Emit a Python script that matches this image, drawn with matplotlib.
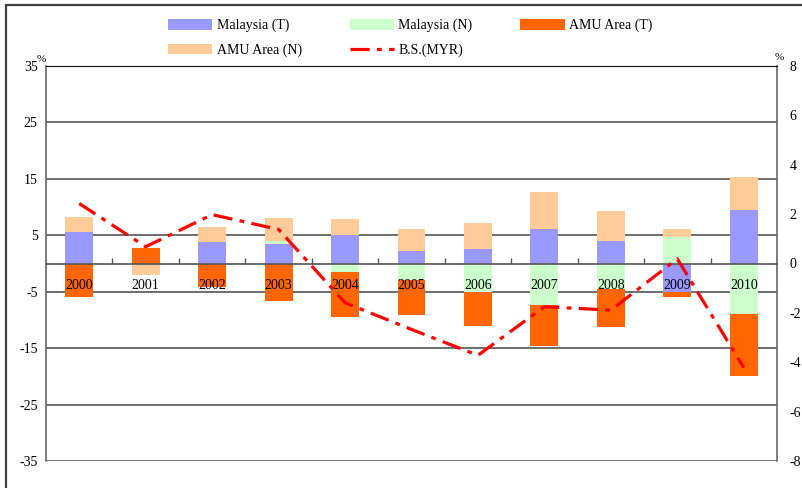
import matplotlib
matplotlib.use("Agg")
import matplotlib.pyplot as plt
import numpy as np
from matplotlib.patches import Rectangle, Patch
from matplotlib.lines import Line2D

plt.rcParams['font.family'] = ['Liberation Serif', 'DejaVu Serif']
plt.rcParams['axes.unicode_minus'] = False

years = ['2000', '2001', '2002', '2003', '2004', '2005',
         '2006', '2007', '2008', '2009', '2010']

# contributions (left axis, %)
malaysia_t = [5.5, 0.0, 3.8, 3.5, 5.0, 2.3, 2.5, 6.2, 4.0, -5.0, 9.55]
malaysia_n = [0.0, 0.0, 0.0, 0.4, -1.55, -3.0, -5.0, -7.4, -4.5, 4.7, -9.0]
amu_t = [-5.9, 2.8, -4.2, -6.6, -7.95, -6.1, -6.05, -7.2, -6.7, -1.0, -10.9]
amu_n = [2.8, -2.0, 2.6, 4.2, 2.8, 3.9, 4.6, 6.45, 5.3, 1.5, 5.75]

# B.S.(MYR), right axis (%)
bs_myr = [2.43, 0.68, 1.98, 1.38, -1.59, -2.67, -3.72, -1.75, -1.89, 0.19, -4.22]

series = [
    ('Malaysia (T)', malaysia_t, '#9999FF'),
    ('Malaysia (N)', malaysia_n, '#CCFFCC'),
    ('AMU Area (T)', amu_t, '#FF6600'),
    ('AMU Area (N)', amu_n, '#FFCC99'),
]
line_style = (0, (6, 2.3, 1.5, 2.3))

W, H = 803, 488
fig = plt.figure(figsize=(W / 100, H / 100), dpi=100)

# outer frame of the chart
fig.patches.append(Rectangle((6 / W, -0.1), 1.2, 1.1 - 5.5 / H,
                             transform=fig.transFigure, fill=False,
                             edgecolor='#404040', linewidth=1.6))

ax = fig.add_axes([46 / W, 27 / H, 731 / W, 395 / H])
x = np.arange(len(years))
pos_base = np.zeros(len(years))
neg_base = np.zeros(len(years))
for name, vals, color in series:
    v = np.array(vals, dtype=float)
    bottom = np.where(v >= 0, pos_base, neg_base)
    ax.bar(x, v, width=0.42, bottom=bottom, color=color, linewidth=0, zorder=2)
    pos_base += np.where(v >= 0, v, 0)
    neg_base += np.where(v < 0, v, 0)

ax.set_xlim(-0.5, len(years) - 0.5)
ax.set_ylim(-35, 35)
ax.set_yticks(np.arange(-35, 36, 10))
ax.yaxis.grid(True, color='#555555', linewidth=1.2)
ax.set_axisbelow(True)
ax.tick_params(axis='y', length=0, pad=6, labelsize=10)

for s in ['left', 'right']:
    ax.spines[s].set_color('#666666')
    ax.spines[s].set_linewidth(1.2)
ax.spines['top'].set_color('#111111')
ax.spines['bottom'].set_position(('data', 0))
ax.spines['bottom'].set_color('#555555')
ax.spines['bottom'].set_linewidth(1.2)
ax.spines['bottom'].set_zorder(3)
ax.set_xticks(x[:-1] + 0.5)
ax.set_xticklabels([])
ax.tick_params(axis='x', direction='in', length=4, color='#555555', width=1)

for xi, yr in zip(x, years):
    ax.text(xi, -3.9, yr, ha='center', va='center', fontsize=10, zorder=5)

ax2 = ax.twinx()
ax2.set_ylim(-8, 8)
ax2.set_yticks(np.arange(-8, 9, 2))
ax2.tick_params(axis='y', length=0, pad=9, labelsize=10)
for s in ax2.spines.values():
    s.set_visible(False)
ax2.plot(x, bs_myr, color='#FF0000', linewidth=2.3, linestyle=line_style,
         zorder=4)

fig.text(41 / W, 1 - 59 / H, '%', fontsize=8, ha='center', va='center')
fig.text(779 / W, 1 - 57 / H, '%', fontsize=8, ha='center', va='center')

# legend filled column by column: three columns, two rows
patch = {n: Patch(facecolor=c, edgecolor='none') for n, _, c in series}
bs_handle = Line2D([], [], color='#FF0000', linewidth=2.3,
                   linestyle=line_style)
handles = [patch['Malaysia (T)'], patch['AMU Area (N)'],
           patch['Malaysia (N)'], bs_handle, patch['AMU Area (T)']]
labels = ['Malaysia (T)', 'AMU Area (N)', 'Malaysia (N)', 'B.S.(MYR)',
          'AMU Area (T)']
fig.legend(handles, labels, ncol=3, loc='upper left',
           bbox_to_anchor=(168 / W, 1 - 19 / H), frameon=False,
           borderpad=0, borderaxespad=0,
           fontsize=10, handlelength=3.2, handleheight=0.75,
           handletextpad=0.3, columnspacing=3.45, labelspacing=0.8)

fig.savefig('out.png', dpi=100)
